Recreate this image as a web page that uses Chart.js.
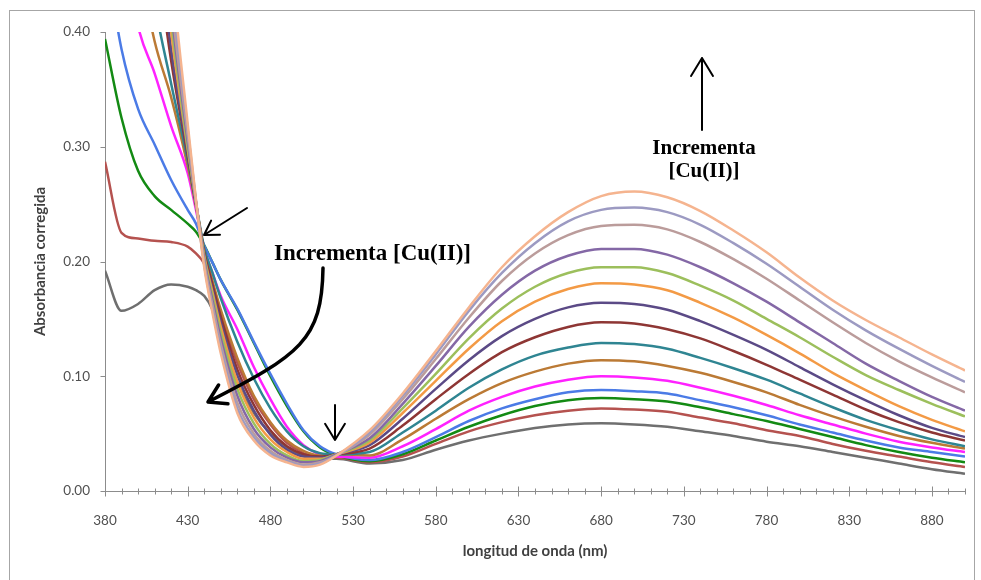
<!DOCTYPE html>
<html>
<head>
<meta charset="utf-8">
<script src="https://cdn.jsdelivr.net/npm/chart.js@4/dist/chart.umd.min.js"></script>
<style>
    html, body { margin: 0; padding: 0; background: #fff; }
    #wrap { width: 981px; height: 580px; }
</style>
</head>
<body>
<div id="wrap"><canvas id="chart"></canvas></div>
<script>
// wavelength grid (nm), finer around the steep edge near 440 nm
let wavelengths = [380, 390, 400, 410, 420, 430, 435, 440, 445, 450, 460, 470, 480, 490, 500, 510, 520,
    540, 560, 580, 600, 620, 640, 660, 680, 700, 720, 740, 760, 780, 800, 820, 840, 860, 880, 900];

// corrected absorbance, one spectrum per Cu(II) addition (lowest first)
let abs_01 = [0.192, 0.157, 0.163, 0.175, 0.180, 0.178, 0.175, 0.170, 0.158, 0.135, 0.095, 0.068, 0.050, 0.038, 0.031, 0.028, 0.028,
    0.024, 0.027, 0.036, 0.044, 0.050, 0.055, 0.058, 0.059, 0.058, 0.056, 0.052, 0.048, 0.043, 0.039, 0.034, 0.029, 0.024, 0.019, 0.015];
let abs_02 = [0.287, 0.225, 0.220, 0.218, 0.217, 0.213, 0.207, 0.198, 0.178, 0.155, 0.112, 0.080, 0.058, 0.042, 0.033, 0.029, 0.029,
    0.025, 0.030, 0.041, 0.052, 0.060, 0.066, 0.070, 0.072, 0.071, 0.069, 0.064, 0.059, 0.053, 0.048, 0.041, 0.035, 0.030, 0.025, 0.021];
let abs_03 = [0.394, 0.325, 0.279, 0.257, 0.245, 0.233, 0.226, 0.214, 0.199, 0.184, 0.158, 0.129, 0.100, 0.074, 0.052, 0.038, 0.031,
    0.026, 0.032, 0.044, 0.056, 0.066, 0.074, 0.079, 0.081, 0.080, 0.078, 0.073, 0.067, 0.061, 0.054, 0.047, 0.040, 0.034, 0.029, 0.025];
let abs_04 = [0.470, 0.385, 0.333, 0.302, 0.271, 0.245, 0.233, 0.214, 0.199, 0.184, 0.159, 0.130, 0.102, 0.076, 0.053, 0.039, 0.032,
    0.027, 0.034, 0.047, 0.061, 0.072, 0.080, 0.086, 0.088, 0.087, 0.085, 0.079, 0.073, 0.066, 0.058, 0.051, 0.044, 0.038, 0.034, 0.030];
let abs_05 = [0.620, 0.490, 0.405, 0.364, 0.318, 0.277, 0.245, 0.211, 0.190, 0.170, 0.141, 0.108, 0.080, 0.056, 0.040, 0.032, 0.030,
    0.029, 0.039, 0.054, 0.070, 0.082, 0.091, 0.097, 0.100, 0.099, 0.096, 0.090, 0.083, 0.075, 0.066, 0.058, 0.050, 0.043, 0.038, 0.034];
let abs_06 = [0.700, 0.560, 0.465, 0.392, 0.343, 0.283, 0.248, 0.210, 0.183, 0.158, 0.116, 0.083, 0.060, 0.044, 0.035, 0.031, 0.032,
    0.031, 0.045, 0.063, 0.080, 0.094, 0.104, 0.111, 0.114, 0.113, 0.109, 0.103, 0.095, 0.086, 0.075, 0.065, 0.056, 0.048, 0.042, 0.037];
let abs_07 = [0.800, 0.640, 0.520, 0.425, 0.355, 0.288, 0.250, 0.212, 0.190, 0.168, 0.130, 0.098, 0.072, 0.052, 0.039, 0.033, 0.032,
    0.034, 0.051, 0.070, 0.090, 0.106, 0.118, 0.125, 0.129, 0.128, 0.124, 0.116, 0.107, 0.097, 0.085, 0.073, 0.062, 0.053, 0.045, 0.039];
let abs_08 = [0.900, 0.740, 0.600, 0.480, 0.375, 0.292, 0.250, 0.208, 0.180, 0.152, 0.106, 0.075, 0.053, 0.039, 0.032, 0.030, 0.032,
    0.037, 0.057, 0.080, 0.102, 0.121, 0.134, 0.143, 0.147, 0.146, 0.141, 0.133, 0.122, 0.110, 0.097, 0.084, 0.071, 0.060, 0.051, 0.044];
let abs_09 = [0.950, 0.780, 0.640, 0.510, 0.385, 0.295, 0.251, 0.206, 0.176, 0.147, 0.101, 0.070, 0.049, 0.036, 0.030, 0.029, 0.032,
    0.040, 0.063, 0.089, 0.114, 0.135, 0.150, 0.160, 0.164, 0.163, 0.158, 0.148, 0.136, 0.123, 0.108, 0.093, 0.079, 0.066, 0.055, 0.047];
let abs_10 = [1.000, 0.820, 0.670, 0.530, 0.400, 0.298, 0.252, 0.205, 0.173, 0.143, 0.095, 0.064, 0.045, 0.034, 0.028, 0.028, 0.032,
    0.042, 0.068, 0.096, 0.124, 0.148, 0.165, 0.176, 0.181, 0.180, 0.175, 0.164, 0.151, 0.136, 0.120, 0.103, 0.088, 0.074, 0.062, 0.052];
let abs_11 = [1.050, 0.860, 0.700, 0.550, 0.410, 0.300, 0.252, 0.203, 0.170, 0.138, 0.089, 0.059, 0.041, 0.031, 0.026, 0.027, 0.032,
    0.044, 0.072, 0.102, 0.133, 0.159, 0.178, 0.190, 0.195, 0.195, 0.190, 0.179, 0.166, 0.150, 0.134, 0.117, 0.101, 0.088, 0.076, 0.065];
let abs_12 = [1.100, 0.900, 0.740, 0.580, 0.420, 0.305, 0.252, 0.201, 0.166, 0.133, 0.083, 0.054, 0.038, 0.029, 0.025, 0.026, 0.032,
    0.046, 0.076, 0.109, 0.143, 0.171, 0.192, 0.205, 0.211, 0.211, 0.206, 0.195, 0.181, 0.165, 0.147, 0.129, 0.111, 0.096, 0.082, 0.070];
let abs_13 = [1.120, 0.930, 0.770, 0.610, 0.430, 0.310, 0.252, 0.199, 0.162, 0.128, 0.077, 0.050, 0.035, 0.027, 0.023, 0.025, 0.031,
    0.049, 0.080, 0.115, 0.151, 0.183, 0.207, 0.223, 0.231, 0.232, 0.228, 0.217, 0.202, 0.185, 0.166, 0.147, 0.129, 0.113, 0.099, 0.086];
let abs_14 = [1.150, 0.960, 0.800, 0.630, 0.445, 0.315, 0.253, 0.197, 0.158, 0.124, 0.072, 0.047, 0.033, 0.026, 0.022, 0.024, 0.031,
    0.051, 0.083, 0.119, 0.157, 0.190, 0.216, 0.235, 0.245, 0.247, 0.243, 0.232, 0.216, 0.198, 0.178, 0.158, 0.140, 0.124, 0.109, 0.095];
let abs_15 = [1.200, 1.000, 0.840, 0.660, 0.460, 0.320, 0.254, 0.195, 0.155, 0.120, 0.068, 0.044, 0.031, 0.025, 0.021, 0.023, 0.031,
    0.053, 0.085, 0.122, 0.160, 0.195, 0.222, 0.243, 0.257, 0.261, 0.256, 0.244, 0.227, 0.208, 0.186, 0.166, 0.149, 0.134, 0.119, 0.105];

let spectra = [abs_01, abs_02, abs_03, abs_04, abs_05, abs_06, abs_07, abs_08,
    abs_09, abs_10, abs_11, abs_12, abs_13, abs_14, abs_15];

let series_colors = ["#6f6f6f", "#b5524f", "#138a13", "#4b7be6", "#ff21ff", "#bb7a35", "#2f8592", "#8e3634",
    "#5b4a86", "#f39a45", "#9cbf5c", "#8468a6", "#bb9c9b", "#9c9ac2", "#f5b48f"];

let x_ticks = [380, 430, 480, 530, 580, 630, 680, 730, 780, 830, 880];
let y_ticks = [0, 0.1, 0.2, 0.3, 0.4];

// frame, axis lines and tick marks (x ticks cross the axis like the spreadsheet style)
let axisFrame = {
    id: 'axisFrame',
    beforeDatasetsDraw: (chart) => {
        const {ctx, chartArea} = chart;
        const xs = chart.scales.x, ys = chart.scales.y;
        ctx.save();
        ctx.strokeStyle = '#a6a6a6';
        ctx.lineWidth = 1;
        ctx.strokeRect(9.5, 10.5, 965, 620);

        ctx.strokeStyle = '#8c8c8c';
        ctx.beginPath();
        let ax = Math.round(chartArea.left) + 0.5;
        let ay = Math.round(chartArea.bottom) + 0.5;
        ctx.moveTo(ax, chartArea.top);
        ctx.lineTo(ax, ay);
        ctx.lineTo(chartArea.right, ay);
        for (let v of y_ticks) {
            let py = Math.round(ys.getPixelForValue(v)) + 0.5;
            ctx.moveTo(ax - 5, py);
            ctx.lineTo(ax, py);
        }
        for (let nm = 380; nm <= 900; nm += 10) {
            let px = Math.round(xs.getPixelForValue(nm)) + 0.5;
            let major = (nm - 380) % 50 === 0;
            ctx.moveTo(px, ay - (major ? 5 : 3));
            ctx.lineTo(px, ay + (major ? 5 : 3));
        }
        ctx.stroke();
        ctx.restore();
    }
};

function arrowHead(ctx, tx, ty, ang, len) {
    ctx.moveTo(tx + len * Math.cos(ang - 0.55), ty + len * Math.sin(ang - 0.55));
    ctx.lineTo(tx, ty);
    ctx.lineTo(tx + len * Math.cos(ang + 0.55), ty + len * Math.sin(ang + 0.55));
}

// hand-drawn style arrows and notes
let notes = {
    id: 'notes',
    afterDraw: (chart) => {
        const {ctx} = chart;
        ctx.save();
        ctx.strokeStyle = '#000';
        ctx.fillStyle = '#000';
        ctx.lineCap = 'round';
        ctx.lineJoin = 'round';

        // first isosbestic point
        ctx.lineWidth = 2;
        ctx.beginPath();
        ctx.moveTo(247, 208);
        ctx.lineTo(204, 235);
        arrowHead(ctx, 204, 235, Math.atan2(208 - 235, 247 - 204), 16);
        ctx.stroke();

        // second isosbestic point
        ctx.beginPath();
        ctx.moveTo(335, 405);
        ctx.lineTo(335, 440);
        arrowHead(ctx, 335, 440, -Math.PI / 2, 19);
        ctx.stroke();

        // upward arrow over the d-d band
        ctx.beginPath();
        ctx.moveTo(702, 130);
        ctx.lineTo(702, 58);
        arrowHead(ctx, 702, 58, Math.PI / 2, 21);
        ctx.stroke();

        // curved arrow towards the charge transfer edge
        ctx.lineWidth = 3.5;
        ctx.beginPath();
        ctx.moveTo(323, 268);
        ctx.bezierCurveTo(322, 340, 300, 355, 208, 402);
        arrowHead(ctx, 208, 402, Math.atan2(394 - 402, 224 - 208), 20);
        ctx.stroke();

        ctx.textAlign = 'left';
        ctx.textBaseline = 'alphabetic';
        ctx.font = 'bold 23px "Liberation Serif"';
        ctx.fillText('Incrementa [Cu(II)]', 274, 260);

        ctx.textAlign = 'center';
        ctx.font = 'bold 21px "Liberation Serif"';
        ctx.fillText('Incrementa', 704, 154);
        ctx.fillText('[Cu(II)]', 704, 177);
        ctx.restore();
    }
};

let datasets = spectra.map((vals, i) => ({
    label: 'Cu(II) ' + (i + 1),
    data: wavelengths.map((nm, j) => ({x: nm, y: vals[j]})),
    borderColor: series_colors[i],
    backgroundColor: series_colors[i],
    borderWidth: 2.5,
    pointRadius: 0,
    cubicInterpolationMode: 'monotone',
    order: spectra.length - i,
}));

let tick_font = {family: 'Lato', size: 13.5};
let title_font = {family: 'Lato', size: 15, weight: 'bold'};

new Chart(document.getElementById('chart'), {
    type: 'line',
    data: {datasets: datasets},
    options: {
        responsive: true,
        maintainAspectRatio: false,
        animation: false,
        layout: {padding: {left: 0, top: 32, right: 16, bottom: 0}},
        plugins: {
            legend: {display: false},
            tooltip: {enabled: false},
        },
        scales: {
            x: {
                type: 'linear',
                min: 380,
                max: 900,
                afterBuildTicks: (s) => { s.ticks = x_ticks.map(v => ({value: v})); },
                afterFit: (s) => { s.height = 89; },
                grid: {display: false, drawTicks: false},
                border: {display: false},
                ticks: {color: '#505050', font: tick_font, padding: 22, maxRotation: 0, autoSkip: false},
                title: {
                    display: true,
                    text: 'longitud de onda (nm)',
                    color: '#404040',
                    font: title_font,
                    padding: {top: 0, bottom: 20},
                },
            },
            y: {
                min: 0,
                max: 0.4,
                afterBuildTicks: (s) => { s.ticks = y_ticks.map(v => ({value: v})); },
                afterFit: (s) => { s.width = 105; },
                grid: {display: false, drawTicks: false},
                border: {display: false},
                ticks: {color: '#505050', font: tick_font, padding: 15, callback: (v) => v.toFixed(2)},
                title: {
                    display: true,
                    text: 'Absorbancia corregida',
                    color: '#404040',
                    font: title_font,
                    padding: {top: 31, bottom: 0},
                },
            },
        },
    },
    plugins: [axisFrame, notes],
});
</script>
</body>
</html>
